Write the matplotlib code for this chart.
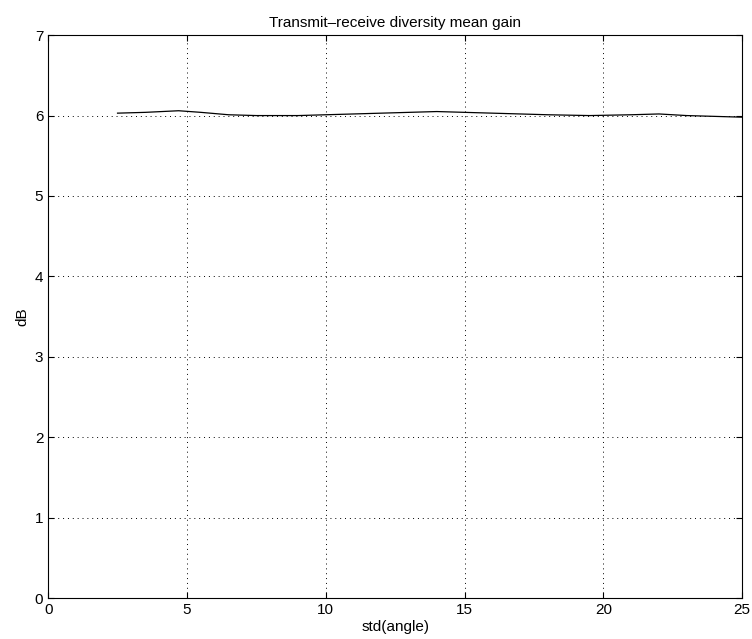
import matplotlib
matplotlib.use('Agg')
import matplotlib.pyplot as plt

plt.rcParams['font.family'] = ['Liberation Sans', 'DejaVu Sans']

# std(angle) and mean gain (dB)
angle = [2.5, 3.5, 4.7, 5.5, 6.5, 7.5, 9, 10, 11, 12, 13, 14, 15, 16, 17, 18, 19.5, 21, 22, 23, 24, 25]
gain = [6.03, 6.04, 6.06, 6.04, 6.01, 6.0, 6.0, 6.01, 6.02, 6.03, 6.04, 6.05, 6.04, 6.03, 6.02, 6.01, 6.0, 6.01, 6.02, 6.0, 5.99, 5.98]

fig = plt.figure(figsize=(7.52, 6.39), dpi=100)
ax = fig.add_axes([0.064, 0.064, 0.923, 0.881])

ax.plot(angle, gain, color='black', linewidth=0.9)

ax.set_xlim(0, 25)
ax.set_ylim(0, 7)
ax.set_xticks([0, 5, 10, 15, 20, 25])
ax.set_yticks(range(8))
ax.grid(True, linestyle=(0, (1, 4)), color='black', linewidth=0.7)
ax.tick_params(direction='in', labelsize=11, length=4, top=True, right=True)
for s in ax.spines.values():
    s.set_linewidth(0.8)

ax.set_title('Transmit\u2013receive diversity mean gain', fontsize=11)
ax.set_xlabel('std(angle)', fontsize=11, labelpad=2)
ax.set_ylabel('dB', fontsize=11, labelpad=4)

fig.savefig('out.png', dpi=100)
